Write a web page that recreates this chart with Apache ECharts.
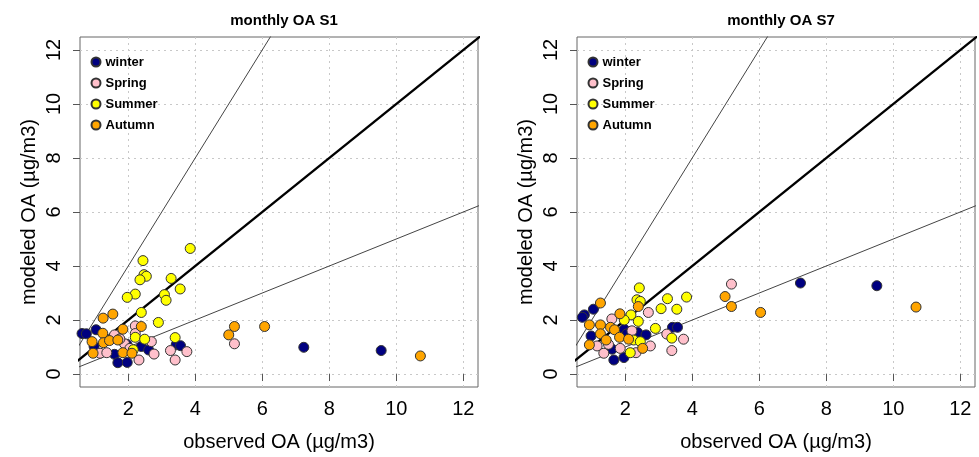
<!DOCTYPE html>
<html><head><meta charset="utf-8">
<script src="https://cdn.jsdelivr.net/npm/echarts@6/dist/echarts.min.js"></script>
<style>html,body{margin:0;padding:0;background:#fff}#c{width:979px;height:457px}</style>
</head><body><div id="c"></div>
<script>
// ---- data ----
const seasons = ['winter', 'Spring', 'Summer', 'Autumn'];
const titles = ['monthly OA S1', 'monthly OA S7'];
const xTicks = [2, 4, 6, 8, 10, 12];
const yTicks = [0, 2, 4, 6, 8, 10, 12];
const refSlopes = [1, 2, 0.5];

const s1Winter = [[0.62,1.5],[0.75,1.49],[1.04,1.64],[0.98,1.02],[1.59,0.73],[1.69,0.42],[1.97,0.43],[1.96,1.1],[2.39,1.02],[2.61,0.89],[3.43,1.08],[3.56,1.05],[7.24,0.99],[9.55,0.87]];
const s1Spring = [[2.21,1.78],[1.59,1.45],[1.16,0.77],[1.36,0.79],[1.89,1.12],[2.21,1.5],[2.69,1.2],[2.77,0.74],[2.32,0.52],[3.26,0.87],[3.4,0.52],[3.75,0.83],[5.17,1.12],[1.75,1.3],[2.05,0.95]];
const s1Summer = [[3.85,4.65],[2.44,4.2],[2.47,3.68],[2.54,3.62],[2.35,3.49],[3.28,3.54],[3.55,3.15],[3.08,2.94],[3.13,2.73],[2.21,2.96],[1.97,2.84],[2.39,2.28],[2.9,1.91],[2.21,1.36],[2.49,1.29],[3.4,1.35],[2.15,0.9]];
const s1Autumn = [[1.25,2.07],[1.54,2.22],[1.84,1.66],[2.39,1.76],[1.24,1.51],[0.92,1.2],[1.26,1.16],[1.44,1.24],[1.69,1.26],[0.95,0.77],[1.84,0.79],[2.11,0.77],[5.17,1.76],[5.0,1.45],[6.07,1.76],[10.72,0.67]];

const s7Winter = [[7.23,3.37],[9.51,3.27],[0.78,2.19],[0.72,2.1],[1.05,2.4],[0.98,1.41],[1.97,1.66],[2.37,1.54],[2.62,1.45],[1.61,0.92],[1.66,0.52],[1.96,0.61],[3.41,1.73],[3.56,1.73],[2.05,1.49]];
const s7Spring = [[5.17,3.33],[2.69,2.28],[1.16,1.04],[1.36,0.77],[1.85,0.95],[2.32,0.79],[2.75,1.04],[3.24,1.48],[3.74,1.29],[3.39,0.87],[1.6,2.04],[2.2,1.6],[1.5,1.1]];
const s7Summer = [[2.42,3.19],[2.35,2.75],[2.45,2.69],[3.26,2.79],[3.83,2.85],[3.07,2.42],[3.54,2.4],[2.17,2.19],[1.97,2.0],[2.39,1.95],[2.9,1.69],[3.39,1.33],[2.15,0.79],[2.25,1.26],[2.45,1.2]];
const s7Autumn = [[6.04,2.28],[10.68,2.48],[4.98,2.87],[5.17,2.5],[2.39,2.5],[1.26,2.63],[1.84,2.23],[0.93,1.82],[1.26,1.82],[1.56,1.73],[1.68,1.64],[1.26,1.49],[1.83,1.36],[2.1,1.29],[1.43,1.26],[0.93,1.08],[2.52,0.95]];

// ---- chart ----
const colors = ['#000080', '#FFC0CB', '#FFFF00', '#FFA500'];
const panels = [[s1Winter, s1Spring, s1Summer, s1Autumn], [s7Winter, s7Spring, s7Summer, s7Autumn]];
const FONT = 'Liberation Sans, Arial, sans-serif';
const X0 = 0.56, X1 = 12.44, Y0 = -0.48, Y1 = 12.48;
const gridLefts = [80, 577];

const chart = echarts.init(document.getElementById('c'), null, {renderer: 'canvas'});
const grids = [], xAxes = [], yAxes = [], series = [], legends = [], titleArr = [];

gridLefts.forEach((gl, p) => {
  grids.push({left: gl, top: 37, width: 398, height: 351, show: true, borderColor: '#666', borderWidth: 1, backgroundColor: 'transparent'});
  titleArr.push({text: titles[p], left: gl + 199, top: 8, textAlign: 'center',
    textStyle: {fontFamily: FONT, fontSize: 15, fontWeight: 'bold', color: '#000'}});
  const common = {
    type: 'value', gridIndex: p, nameLocation: 'middle',
    nameTextStyle: {fontFamily: FONT, fontSize: 20, color: '#000'},
    axisLine: {show: false},
    axisTick: {show: true, inside: false, length: 7, lineStyle: {color: '#555', width: 1}},
    splitLine: {show: true, lineStyle: {type: [2, 4], color: '#c8c8c8', width: 1}},
    axisLabel: {fontFamily: FONT, fontSize: 20, color: '#000'}
  };
  xAxes.push(Object.assign({}, common, {
    min: X0, max: X1, name: 'observed OA (\u00b5g/m3)', nameGap: 45,
    axisTick: Object.assign({}, common.axisTick, {customValues: xTicks}),
    axisLabel: Object.assign({}, common.axisLabel, {customValues: xTicks, margin: 12}),
  }));
  yAxes.push(Object.assign({}, common, {
    min: Y0, max: Y1, name: 'modeled OA (\u00b5g/m3)', nameGap: 41,
    axisTick: Object.assign({}, common.axisTick, {customValues: yTicks}),
    axisLabel: Object.assign({}, common.axisLabel, {customValues: yTicks, rotate: 90, margin: 16}),
  }));
  refSlopes.forEach((s, i) => {
    series.push({type: 'line', xAxisIndex: p, yAxisIndex: p, silent: true, symbol: 'none', clip: true, z: 1,
      data: [[0, 0], [14, 14 * s]],
      lineStyle: {color: i === 0 ? '#000' : '#444', width: i === 0 ? 2.2 : 1}});
  });
  panels[p].forEach((d, k) => {
    series.push({name: seasons[k], type: 'scatter', xAxisIndex: p, yAxisIndex: p, z: 3,
      symbol: 'circle', symbolSize: 10, data: d,
      itemStyle: {color: colors[k], borderColor: '#333', borderWidth: 1, opacity: 1}});
  });
  legends.push({data: seasons, orient: 'vertical', left: gl + 5.5, top: 50, itemGap: 7,
    itemWidth: 9, itemHeight: 9, icon: 'circle', selectedMode: false,
    textStyle: {fontFamily: FONT, fontSize: 13, fontWeight: 'bold', color: '#000', lineHeight: 14}});
});

chart.setOption({
  animation: false, backgroundColor: '#fff',
  title: titleArr, grid: grids, xAxis: xAxes, yAxis: yAxes, legend: legends, series: series
});
</script></body></html>
